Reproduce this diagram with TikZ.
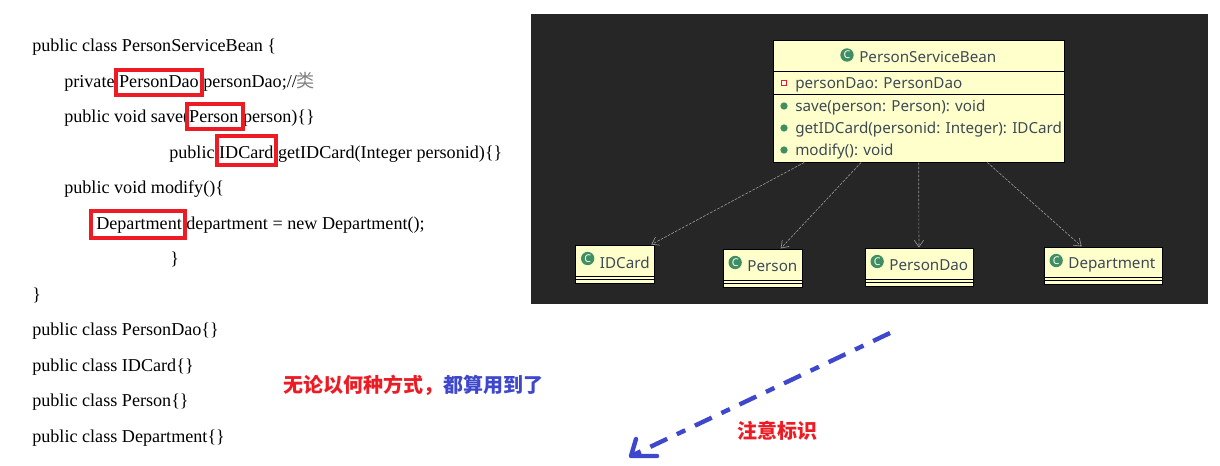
\documentclass[tikz,border=0pt]{standalone}
\usepackage{fontspec}
\setmainfont{Liberation Serif}
\newfontfamily\umlfont{Noto Sans}
\newfontfamily\cjk{Noto Sans CJK SC}
\usetikzlibrary{arrows.meta}
\definecolor{panelgray}{HTML}{262626}
\definecolor{notered}{HTML}{ED1C24}
\definecolor{noteblue}{HTML}{3F48CC}
\definecolor{classfill}{HTML}{FFFFCC}
\definecolor{classink}{HTML}{3D4A55}
\definecolor{markgreen}{HTML}{3F8F63}
\tikzset{
    codeline/.style={anchor=base west, inner sep=0pt, font=\fontsize{13.6}{16}\selectfont},
    hilite/.style={draw=notered, line width=3.3pt},
    classbox/.style={draw=black, fill=classfill, line width=0.75pt, inner sep=0pt},
    umltext/.style={anchor=west, inner sep=0pt, text=classink, font=\umlfont\fontsize{11.4}{14}\selectfont},
    classmark/.style={circle, fill=markgreen, text=white, inner sep=0pt, minimum size=10pt,
        font=\umlfont\bfseries\fontsize{8}{8}\selectfont},
    pubmark/.style={circle, fill=markgreen, inner sep=0pt, minimum size=5.5pt},
    privmark/.style={draw=notered, fill=white, line width=1pt, inner sep=0pt, minimum size=4pt},
    uses/.style={-{Straight Barb[length=5pt, width=7pt]}, draw=gray!85, line width=0.5pt, dash pattern=on 2pt off 1pt},
    note/.style={inner sep=0pt, font=\cjk\bfseries\fontsize{15}{17}\selectfont},
}
\begin{document}
\begin{tikzpicture}[x=0.75pt, y=-0.75pt]
    \useasboundingbox (0,0) rectangle (1220,465);
    % Code
    \foreach \px/\py/\txt [count=\n] in {
        32/51/{public class PersonServiceBean \{},
        64/87/{private PersonDao personDao;//{\cjk\color{gray}类}},
        64/122/{public void save(Person person)\{\}},
        169/158/{public IDCard getIDCard(Integer personid)\{\}},
        64/193/{public void modify()\{},
        96/229/{Department department = new Department();},
        170/264/{\}},
        32/300/{\}},
        32/335/{public class PersonDao\{\}},
        32/371/{public class IDCard\{\}},
        32/406/{public class Person\{\}},
        32/442/{public class Department\{\}}}
        \node[codeline] (code\n) at (\px,\py) {\txt};
    % Red frames
    \draw[hilite] (116,70) rectangle (202,95);
    \draw[hilite] (187,104) rectangle (243,129);
    \draw[hilite] (217,136) rectangle (276,165);
    \draw[hilite] (91,211) rectangle (185,238);
    % Dark panel
    \fill[panelgray] (531,14) rectangle (1208,304);
    % Main class
    \node[classbox, minimum width=291*0.75pt, minimum height=122*0.75pt] (bean) at (918.5,101) {};
    \draw[line width=0.75pt] (bean.west |- 0,71.5) -- (bean.east |- 0,71.5);
    \draw[line width=0.75pt] (bean.west |- 0,94) -- (bean.east |- 0,94);
    \node[classmark] (beanmark) at (847,55) {C};
    \node[umltext] (beantitle) at (859,57) {PersonServiceBean};
    \node[privmark] (attrmark) at (784,83) {};
    \node[umltext] (attr) at (795,85) {personDao: PersonDao};
    \foreach \py/\txt [count=\n] in {106/{save(person: Person): void},
        128/{getIDCard(personid: Integer): IDCard},
        150/{modify(): void}} {
        \node[pubmark] (opmark\n) at (784,\py) {};
        \node[umltext] (op\n) at (795,\py+2) {\txt};
    }
    % Used classes
    \foreach \name/\cx/\cy/\bw/\bh/\txt in {
        idcard/615/264/79/38/IDCard,
        person/762.5/268/79/38/Person,
        dao/919/267/108/38/PersonDao,
        dept/1103/265.5/118/37/Department} {
        \node[classbox, minimum width=\bw*0.75pt, minimum height=\bh*0.75pt] (\name) at (\cx,\cy) {};
        \draw[line width=0.75pt] ([yshift=5.25pt]\name.south west) -- ([yshift=5.25pt]\name.south east);
        \draw[line width=0.75pt] ([yshift=3pt]\name.south west) -- ([yshift=3pt]\name.south east);
        \node[classmark] (\name mark) at ([xshift=9.5pt,yshift=-10.5pt]\name.north west) {C};
        \node[umltext] (\name text) at ([xshift=18.5pt,yshift=-13.5pt]\name.north west) {\txt};
    }
    % Dependencies
    \foreach \name in {idcard, person, dao, dept}
        \draw[uses] (bean) -- (\name);
    % Hand drawn arrow
    \coordinate (arrowstart) at (890,333);
    \coordinate (arrowtip) at (631,456);
    \coordinate (barbup) at (636,439);
    \coordinate (barbright) at (657,456);
    \draw[noteblue, line width=3.3pt, dash pattern=on 14pt off 8pt on 7pt off 8pt] (arrowstart) -- (arrowtip);
    \draw[noteblue, line width=3.3pt, line cap=round, line join=round] (barbup) -- (arrowtip) -- (barbright);
    % Notes
    \node[note, anchor=west] (usednote) at (283,385) {\textcolor{notered}{无论以何种方式，}\textcolor{noteblue}{都算用到了}};
    \node[note, anchor=west, text=notered] (marknote) at (737,431) {注意标识};
\end{tikzpicture}
\end{document}
